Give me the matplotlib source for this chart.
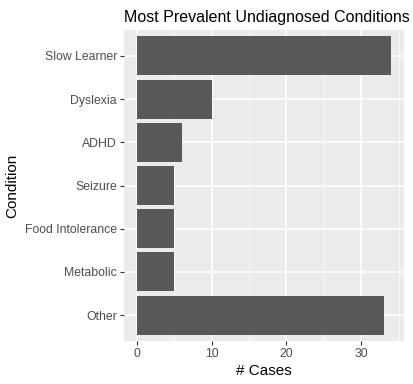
import matplotlib
matplotlib.use("Agg")
import matplotlib.pyplot as plt
import numpy as np

conditions = ["Slow Learner", "Dyslexia", "ADHD", "Seizure", "Food Intolerance", "Metabolic", "Other"]
cases = [34, 10, 6, 5, 5, 5, 33]
xticks = [0, 10, 20, 30]

plt.rcParams['font.family'] = ['Liberation Sans', 'DejaVu Sans']
fig = plt.figure(figsize=(4.13, 3.84), dpi=100)
W, H = 413, 384
ax = fig.add_axes([124/W, 1-341/H, (404-124)/W, (341-30)/H])
ax.set_facecolor('#EBEBEB')
n = len(conditions)
ypos = np.arange(n)[::-1]
ax.barh(ypos, cases, height=0.9, color='#595959', zorder=3)
ax.set_xlim(-1.7, 35.7)
ax.set_ylim(-0.6, n-0.4)
ax.set_xticks(xticks)
ax.set_xticks([5, 15, 25, 35], minor=True)
ax.set_yticks(ypos)
ax.set_yticklabels(conditions)
ax.grid(True, which='major', color='white', linewidth=1.1, zorder=0)
ax.grid(True, which='minor', axis='x', color='white', linewidth=0.5, zorder=0)
ax.tick_params(which='minor', length=0)
ax.tick_params(which='major', length=3, width=0.8, color='#333333', labelcolor='#4D4D4D', labelsize=8.8, pad=2)
for s in ax.spines.values():
    s.set_visible(False)
ax.set_xlabel('# Cases', fontsize=11, labelpad=3)
ax.set_ylabel('Condition', fontsize=11, labelpad=4)
ax.set_title('Most Prevalent Undiagnosed Conditions', fontsize=11.5, pad=6, loc='left')
fig.savefig('out.png', dpi=100)
